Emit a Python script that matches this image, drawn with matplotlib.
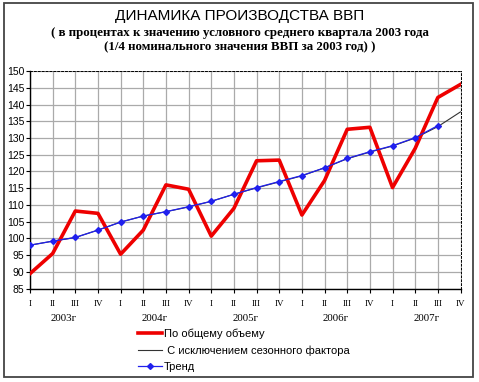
import matplotlib.pyplot as plt
from matplotlib.lines import Line2D
from matplotlib.patches import Rectangle

# quarters 2003 I .. 2007 IV
quarters = ['I', 'II', 'III', 'IV'] * 5
years = ['2003г', '2004г', '2005г', '2006г', '2007г']

total = [89.5, 95.5, 108.2, 107.5, 95.3, 102.5, 116.0, 114.7,
         100.7, 109.0, 123.2, 123.4, 107.0, 117.3, 132.6, 133.2,
         115.2, 126.9, 142.1, 146.0]
seasonal = [98.0, 99.2, 100.3, 102.5, 104.9, 106.7, 108.0, 109.4,
            111.1, 113.2, 115.1, 116.9, 118.7, 121.1, 123.8, 125.8,
            127.6, 130.0, 133.4, 137.8]
trend = [98.0, 99.2, 100.3, 102.5, 104.9, 106.7, 108.0, 109.5,
         111.1, 113.2, 115.2, 117.0, 118.8, 121.1, 123.9, 125.9,
         127.7, 130.1, 133.7]

fig = plt.figure(figsize=(4.79, 3.82), dpi=100)
fig.patches.append(Rectangle((0.0084, 0.0131), 0.979, 0.979, transform=fig.transFigure,
                             fill=False, edgecolor='#444444', lw=1.3))

ax = fig.add_axes([0.0626, 0.2442, 0.8988, 0.5699])
x = list(range(len(total)))

ax.plot(x, total, color='#ee0000', lw=2.6, zorder=4)
ax.plot(x, seasonal, color='#333333', lw=0.8, zorder=3)
ax.plot(range(len(trend)), trend, color='#2020ee', lw=0.9, marker='D',
        markersize=3, zorder=5)

ax.set_xlim(0, 19)
ax.set_ylim(85, 150)
ax.set_yticks(range(85, 151, 5))
ax.set_xticks(x)
ax.set_xticklabels(quarters, fontsize=6.5, family='Liberation Serif')
ax.tick_params(axis='y', labelsize=7.5, length=3, pad=1)
ax.tick_params(axis='x', length=3, pad=5, direction='out')
for lab in ax.get_yticklabels():
    lab.set_family('Liberation Sans')

ax.grid(True, color='#aaaaaa', lw=0.9)
ax.set_axisbelow(True)
ax.spines['top'].set_linestyle((0, (2, 2)))
ax.spines['right'].set_linestyle((0, (2, 2)))
ax.spines['top'].set_linewidth(0.7)
ax.spines['right'].set_linewidth(0.7)
ax.spines['left'].set_linewidth(1.0)
ax.spines['bottom'].set_linewidth(1.0)

for i, yr in enumerate(years):
    ax.text(i * 4 + 1.5, -0.135, yr, transform=ax.get_xaxis_transform(),
            ha='center', va='center', fontsize=7.8, family='Liberation Serif')

fig.text(0.5, 0.958, 'ДИНАМИКА ПРОИЗВОДСТВА ВВП', ha='center', va='center',
         fontsize=11, family='Liberation Sans', weight='medium')
fig.text(0.5, 0.9136, '( в процентах к значению условного среднего квартала 2003 года',
         ha='center', va='center', fontsize=9.3, family='Liberation Serif', weight='bold')
fig.text(0.5, 0.876, '(1/4 номинального значения ВВП за 2003 год) )',
         ha='center', va='center', fontsize=9.3, family='Liberation Serif', weight='bold')

handles = [Line2D([], [], color='#ee0000', lw=2.6),
           Line2D([], [], color='#333333', lw=0.8),
           Line2D([], [], color='#2020ee', lw=0.9, marker='D', markersize=3)]
labels = ['По общему объему', ' С исключением сезонного фактора', 'Тренд']
fig.legend(handles, labels, loc='upper left', bbox_to_anchor=(0.288, 0.139),
           frameon=False, handlelength=2.2, handletextpad=0.1,
           labelspacing=0.55, borderpad=0, borderaxespad=0,
           prop={'family': 'Liberation Sans', 'size': 8})

fig.savefig('out.png', dpi=100)
